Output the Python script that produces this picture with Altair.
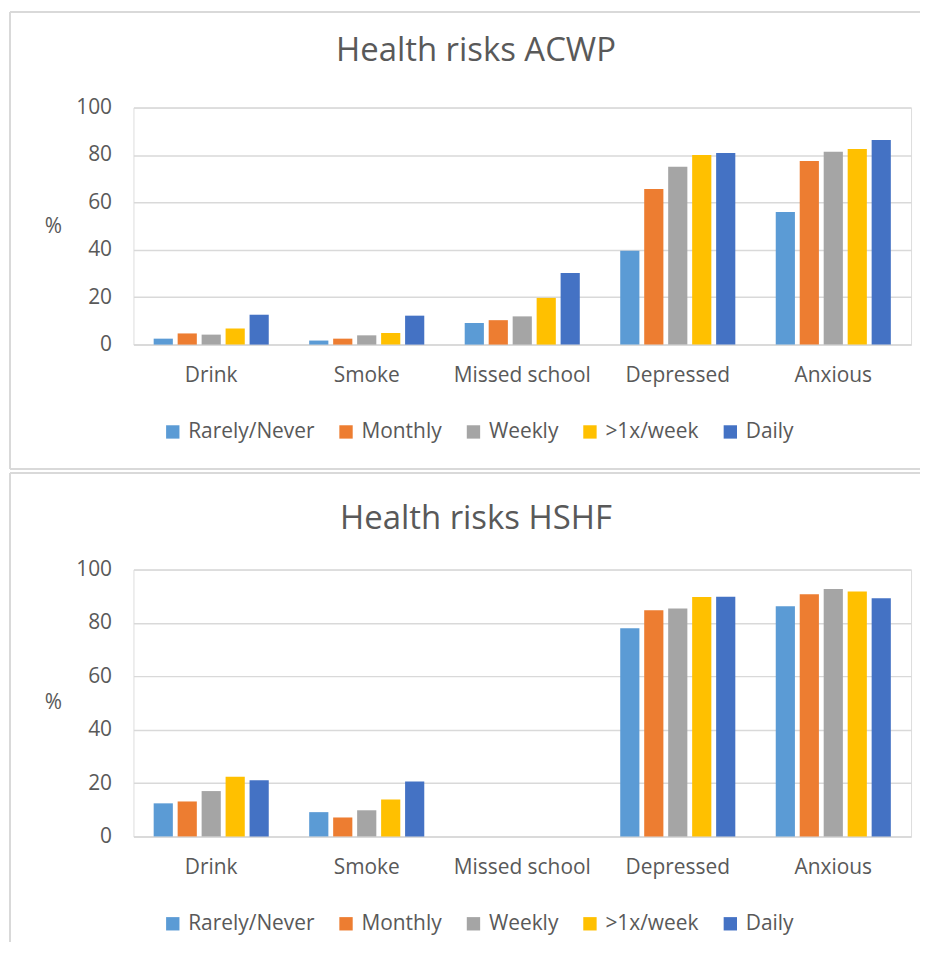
import altair as alt
import pandas as pd

categories = ["Drink", "Smoke", "Missed school", "Depressed", "Anxious"]
frequencies = ["Rarely/Never", "Monthly", "Weekly", ">1x/week", "Daily"]
colors = ["#5B9BD5", "#ED7D31", "#A5A5A5", "#FFC000", "#4472C4"]

acwp_rarely = [2.5, 1.7, 9.1, 39.6, 55.9]
acwp_monthly = [4.7, 2.5, 10.3, 65.7, 77.5]
acwp_weekly = [4.2, 3.9, 11.9, 75.0, 81.4]
acwp_more = [6.8, 4.9, 19.7, 80.0, 82.5]
acwp_daily = [12.6, 12.2, 30.2, 80.8, 86.3]

hshf_rarely = [12.4, 9.1, None, 78.0, 86.3]
hshf_monthly = [13.1, 7.1, None, 84.8, 90.8]
hshf_weekly = [17.0, 9.8, None, 85.4, 92.7]
hshf_more = [22.4, 13.8, None, 89.7, 91.8]
hshf_daily = [21.1, 20.6, None, 89.8, 89.3]

y_ticks = [0, 20, 40, 60, 80, 100]

TEXT = "#595959"
GRID = "#D9D9D9"
FONT = "Open Sans"
W = 781


def long_df(series):
    rows = []
    for f, vals in zip(frequencies, series):
        for c, v in zip(categories, vals):
            if v is not None:
                rows.append({"category": c, "freq": f, "value": v})
    return pd.DataFrame(rows)


def panel(title, series, H, legend_y, title_y, top_line, bottom_line, draw_bottom):
    df = long_df(series)
    bars = alt.Chart(df).mark_bar().encode(
        x=alt.X("category:N", sort=categories,
                scale=alt.Scale(domain=categories, paddingInner=0.26, paddingOuter=0.13),
                axis=alt.Axis(title=None, labelAngle=0, labelFontSize=21, labelColor=TEXT,
                              labelFont=FONT, ticks=False, domain=True, domainColor=GRID,
                              domainWidth=1.5, labelPadding=20)),
        xOffset=alt.XOffset("freq:N", sort=frequencies,
                            scale=alt.Scale(domain=frequencies, paddingInner=0.2)),
        y=alt.Y("value:Q", scale=alt.Scale(domain=[0, 100], nice=False),
                axis=alt.Axis(values=y_ticks, title="%", titleAngle=0, titleX=-81, titleY=H / 2,
                              titleAlign="center", titleBaseline="middle", titleFontSize=21,
                              titleFontWeight="normal", titleColor=TEXT, titleFont=FONT,
                              labelFontSize=21, labelColor=TEXT, labelFont=FONT, labelPadding=22,
                              ticks=False, domain=False, gridColor=GRID, gridWidth=1.5)),
        color=alt.Color("freq:N", sort=frequencies,
                        scale=alt.Scale(domain=frequencies, range=colors),
                        legend=alt.Legend(title=None, orient="none", direction="horizontal",
                                          columns=5, legendX=29, legendY=legend_y,
                                          symbolType="square", symbolSize=180,
                                          symbolStrokeWidth=0, labelFontSize=21,
                                          labelColor=TEXT, labelFont=FONT, labelOffset=5,
                                          columnPadding=21, padding=0)),
    )
    one = alt.Data(values=[{"a": 1}])
    ttl = alt.Chart(one).mark_text(text=title, fontSize=33, color=TEXT, font=FONT,
                                   align="center", baseline="middle").encode(
        x=alt.value(344), y=alt.value(title_y))
    left = alt.Chart(one).mark_rule(color=GRID, strokeWidth=2).encode(
        x=alt.value(-124), y=alt.value(top_line), y2=alt.value(bottom_line))
    top = alt.Chart(one).mark_rule(color=GRID, strokeWidth=2).encode(
        x=alt.value(-124), x2=alt.value(790), y=alt.value(top_line))
    layers = [left, top, bars, ttl]
    if draw_bottom:
        bot = alt.Chart(one).mark_rule(color=GRID, strokeWidth=2).encode(
            x=alt.value(-124), x2=alt.value(790), y=alt.value(bottom_line))
        layers.append(bot)
    return alt.layer(*layers).properties(width=W, height=H)


top_panel = panel("Health risks ACWP",
                  [acwp_rarely, acwp_monthly, acwp_weekly, acwp_more, acwp_daily],
                  238, 315, -57, -96, 363, True)
bottom_panel = panel("Health risks HSHF",
                     [hshf_rarely, hshf_monthly, hshf_weekly, hshf_more, hshf_daily],
                     268, 345, -51, -97, 374, False)

chart = alt.vconcat(top_panel, bottom_panel, spacing=0).resolve_legend(
    color="independent").properties(padding=0).configure_view(strokeWidth=0).configure(
    font=FONT)

chart.save("out.html", embed_options={"renderer": "svg", "actions": False})
